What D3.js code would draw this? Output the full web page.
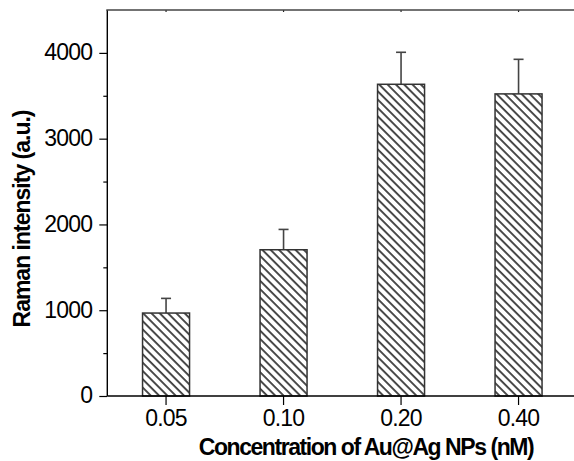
<!DOCTYPE html>
<html><head><meta charset="utf-8">
<script src="https://cdn.jsdelivr.net/npm/d3@7"></script>
<style>body{margin:0;background:#fff}svg{display:block}text{font-family:"Liberation Sans",Arial,sans-serif}</style>
</head><body><svg id="c" width="574" height="461"></svg>
<script>
const categories = ["0.05","0.10","0.20","0.40"];
const values = [967, 1705, 3634, 3522];
const errors = [171, 237, 373, 403];
const yMajorTicks = [0,1000,2000,3000,4000];
const yMinorTicks = [500,1500,2500,3500];
const xLabel = "Concentration of Au@Ag NPs (nM)";
const yLabel = "Raman intensity (a.u.)";

const svg = d3.select("#c");
const mLeft = 107.3, mRight = 577.3, mTop = 10, mBottom = 396;
const x = d3.scaleBand().domain(categories).range([mLeft, mRight]).paddingInner(0.6).paddingOuter(0.3);
const y = d3.scaleLinear().domain([0,4500]).range([mBottom, mTop]);

const defs = svg.append("defs");
const pat = defs.append("pattern").attr("id","hatch").attr("patternUnits","userSpaceOnUse")
  .attr("width",10).attr("height",5.87).attr("patternTransform","rotate(45)");
pat.append("rect").attr("width",10).attr("height",5.87).attr("fill","#fff");
pat.append("line").attr("x1",0).attr("x2",10).attr("y1",2.9).attr("y2",2.9).attr("stroke","#000").attr("stroke-width",1.4);

const data = categories.map((c,i)=>({c, v: values[i], e: errors[i]}));

// error bars
const eg = svg.append("g").attr("stroke","#444").attr("stroke-width",1.6);
eg.selectAll("line.v").data(data).join("line").attr("class","v")
  .attr("x1",d=>x(d.c)+x.bandwidth()/2).attr("x2",d=>x(d.c)+x.bandwidth()/2)
  .attr("y1",d=>y(d.v)).attr("y2",d=>y(d.v+d.e));
eg.selectAll("line.h").data(data).join("line").attr("class","h")
  .attr("x1",d=>x(d.c)+x.bandwidth()/2-5).attr("x2",d=>x(d.c)+x.bandwidth()/2+5)
  .attr("y1",d=>y(d.v+d.e)).attr("y2",d=>y(d.v+d.e));

// bars
svg.append("g").selectAll("rect").data(data).join("rect")
  .attr("x",d=>x(d.c)).attr("width",x.bandwidth())
  .attr("y",d=>y(d.v)).attr("height",d=>y(0)-y(d.v))
  .attr("fill","url(#hatch)").attr("stroke","#333").attr("stroke-width",1.5);

// left axis
const ya = svg.append("g").attr("transform",`translate(${mLeft},0)`)
  .call(d3.axisLeft(y).tickValues(yMajorTicks).tickSize(8).tickPadding(7).tickFormat(d3.format("d")));
ya.select(".domain").remove();
ya.selectAll("line").attr("stroke","#000").attr("stroke-width",1.2);
ya.selectAll("text").attr("font-size",23).attr("fill","#000").attr("dy","0.3em").attr("letter-spacing","-0.8");
svg.append("g").attr("transform",`translate(${mLeft},0)`)
  .call(d3.axisLeft(y).tickValues(yMinorTicks).tickSize(4).tickFormat(""))
  .call(g=>g.select(".domain").remove())
  .selectAll("line").attr("stroke","#000").attr("stroke-width",1.2);
svg.append("line").attr("x1",mLeft).attr("x2",mLeft).attr("y1",mTop).attr("y2",mBottom).attr("stroke","#000").attr("stroke-width",1.4);

// bottom axis
const xa = svg.append("g").attr("transform",`translate(0,${mBottom})`)
  .call(d3.axisBottom(x).tickSize(9).tickPadding(5));
xa.select(".domain").remove();
xa.selectAll("line").attr("stroke","#000").attr("stroke-width",1.2);
xa.selectAll("text").attr("font-size",23).attr("fill","#000").attr("letter-spacing","-0.8");
svg.append("line").attr("x1",mLeft).attr("x2",574).attr("y1",mBottom).attr("y2",mBottom).attr("stroke","#000").attr("stroke-width",1.4);

// top axis
const ta = svg.append("g").attr("transform",`translate(0,${mTop})`)
  .call(d3.axisBottom(x).tickSize(2).tickFormat(""));
ta.select(".domain").remove();
ta.selectAll("line").attr("stroke","#222").attr("stroke-width",1.2);
svg.append("line").attr("x1",mLeft-1).attr("x2",574).attr("y1",mTop).attr("y2",mTop).attr("stroke","#444").attr("stroke-width",1.6);

// labels
svg.append("text").attr("x",366).attr("y",455).attr("text-anchor","middle")
  .attr("font-size",23).attr("font-weight","bold").attr("letter-spacing","-1.45").text(xLabel);
svg.append("text").attr("transform","translate(30,219) rotate(-90)").attr("text-anchor","middle")
  .attr("font-size",23).attr("font-weight","bold").attr("letter-spacing","-1.0").text(yLabel);
</script></body></html>
